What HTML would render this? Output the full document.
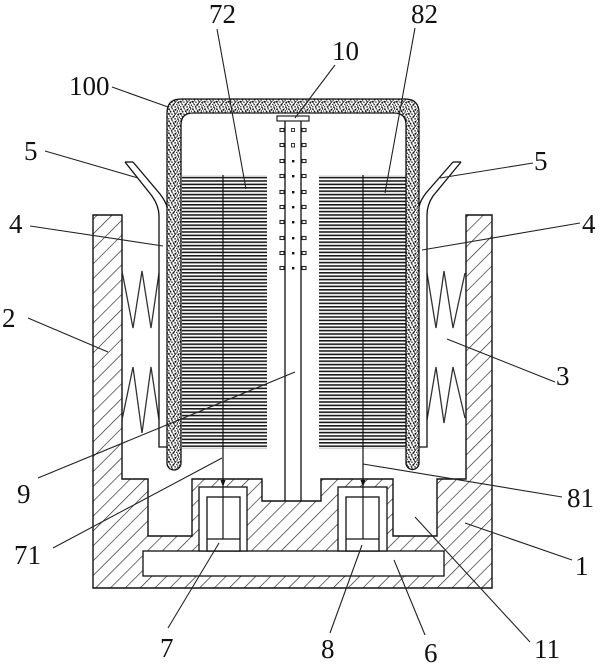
<!DOCTYPE html>
<html>
<head>
<meta charset="utf-8">
<style>
html,body{margin:0;padding:0;background:#fff;}
svg{display:block;}
text{font-family:"Liberation Serif",serif;font-size:27px;fill:#111;}
</style>
</head>
<body>
<svg width="600" height="666" viewBox="0 0 600 666" xmlns="http://www.w3.org/2000/svg">
<defs>
  <pattern id="hatch" width="10.5" height="10.5" patternUnits="userSpaceOnUse" patternTransform="rotate(45)">
    <rect width="10.5" height="10.5" fill="#fff"/>
    <line x1="0" y1="0" x2="0" y2="10.5" stroke="#222" stroke-width="1.3"/>
  </pattern>
  <pattern id="lam" width="10" height="3.4" patternUnits="userSpaceOnUse">
    <rect width="10" height="3.4" fill="#fff"/>
    <rect x="0" y="0" width="10" height="1.6" fill="#1a1a1a"/>
  </pattern>
  <pattern id="stip" width="12" height="12" patternUnits="userSpaceOnUse">
    <rect width="12" height="12" fill="#fff"/>
    <g fill="#111">
      <circle cx="1" cy="1.2" r="0.9"/><circle cx="4.2" cy="0.8" r="0.7"/><circle cx="7.5" cy="1.8" r="1"/>
      <circle cx="10.6" cy="0.9" r="0.8"/><circle cx="2.6" cy="3.6" r="0.8"/><circle cx="5.8" cy="3.3" r="0.9"/>
      <circle cx="9.2" cy="4" r="0.7"/><circle cx="11.5" cy="3.2" r="0.6"/><circle cx="0.8" cy="5.8" r="1"/>
      <circle cx="4" cy="6.2" r="0.7"/><circle cx="7.2" cy="6" r="0.9"/><circle cx="10.3" cy="6.6" r="1"/>
      <circle cx="2.2" cy="8.4" r="0.7"/><circle cx="5.5" cy="8.8" r="1"/><circle cx="8.8" cy="8.4" r="0.7"/>
      <circle cx="11.4" cy="9.2" r="0.7"/><circle cx="0.7" cy="10.8" r="0.7"/><circle cx="3.7" cy="11" r="0.9"/>
      <circle cx="7.1" cy="10.9" r="0.8"/><circle cx="10" cy="11.2" r="0.8"/><circle cx="6.5" cy="4.8" r="0.6"/>
      <circle cx="3" cy="9.9" r="0.5"/><circle cx="9.5" cy="2.6" r="0.5"/><circle cx="1.9" cy="2.4" r="0.5"/>
      <circle cx="5.1" cy="2" r="0.5"/><circle cx="8.3" cy="5.1" r="0.5"/><circle cx="11.2" cy="5.4" r="0.5"/>
      <circle cx="2.9" cy="5" r="0.5"/><circle cx="1.4" cy="7.3" r="0.5"/><circle cx="6.3" cy="7.5" r="0.6"/>
      <circle cx="9.4" cy="9.9" r="0.5"/><circle cx="4.6" cy="9.8" r="0.4"/><circle cx="8.4" cy="0.3" r="0.4"/>
    </g>
  </pattern>
</defs>

<!-- Housing body (1 & 2) hatched -->
<path d="M93,215 L122,215 L122,479 L148,479 L148,536 L192,536 L192,479 L262,479 L262,501 L321,501 L321,479 L393,479 L393,536 L437,536 L437,479 L466,479 L466,215 L492,215 L492,588 L93,588 Z"
      fill="url(#hatch)" stroke="#111" stroke-width="1.4"/>

<!-- plate 6 -->
<rect x="143" y="551" width="301" height="25" fill="#fff" stroke="#111" stroke-width="1.3"/>

<!-- slots 7 and 8 -->
<rect x="199" y="487" width="48" height="64" fill="#fff" stroke="#111" stroke-width="1.3"/>
<rect x="207" y="497" width="33" height="54" fill="#fff" stroke="#111" stroke-width="1.3"/>
<line x1="207" y1="539" x2="240" y2="539" stroke="#111" stroke-width="1.3"/>
<rect x="338" y="487" width="49" height="64" fill="#fff" stroke="#111" stroke-width="1.3"/>
<rect x="346" y="497" width="33" height="54" fill="#fff" stroke="#111" stroke-width="1.3"/>
<line x1="346" y1="539" x2="379" y2="539" stroke="#111" stroke-width="1.3"/>

<!-- springs 3 -->
<g fill="none" stroke="#333" stroke-width="1.3">
  <polyline points="122,271 133,328 142,271 151,328 159,273"/>
  <polyline points="122,420 133,367 142,433 151,367 159,420"/>
  <polyline points="427,273 436,328 444,271 453,328 465,273"/>
  <polyline points="427,420 436,367 444,423 453,367 465,418"/>
</g>

<!-- strips 5 and sleeves 4 -->
<g fill="none" stroke="#111" stroke-width="1.3">
  <path d="M125,162 L152,196 Q159,206 159,216 L159,447 L167,447"/>
  <path d="M133,162 L160,194 Q166,202 167,207"/>
  <line x1="125" y1="162" x2="133" y2="162"/>
  <path d="M461,162 L433,196 Q427,205 427,215 L427,447 L419,447"/>
  <path d="M453,162 L426,193 Q420,201 419,207"/>
  <line x1="453" y1="162" x2="461" y2="162"/>
</g>

<!-- lamination stacks -->
<rect x="182" y="175" width="85" height="274" fill="url(#lam)"/>
<rect x="319" y="175" width="87" height="274" fill="url(#lam)"/>

<!-- electrode lines 71 / 81 -->
<g stroke="#111" stroke-width="1.2">
  <line x1="223" y1="175" x2="223" y2="539"/>
  <line x1="363" y1="175" x2="363" y2="539"/>
</g>
<polygon points="220.5,480 225.5,480 223,487" fill="#111"/>
<polygon points="360.5,480 365.5,480 363,487" fill="#111"/>

<!-- cover 100 -->
<path d="M167,463 L167,113 Q167,99 181,99 L405,99 Q419,99 419,113 L419,463 A6.5,6.5 0 0 1 406,463 L406,125 Q406,113 394,113 L193,113 Q181,113 181,125 L181,463 A7,7 0 0 1 167,463 Z"
      fill="url(#stip)" stroke="#111" stroke-width="1.3"/>

<!-- rod 9 -->
<g stroke="#111" stroke-width="1.3">
  <line x1="285" y1="121" x2="285" y2="501"/>
  <line x1="301" y1="121" x2="301" y2="501"/>
</g>
<rect x="277" y="116" width="32" height="5" fill="#fff" stroke="#111" stroke-width="1.1"/>

<!-- spring 10 on rod -->
<g fill="#fff" stroke="#222" stroke-width="1.1">
  <rect x="280" y="128.5" width="4" height="3"/><rect x="302" y="128.5" width="4" height="3"/>
  <rect x="280" y="143.5" width="4" height="3"/><rect x="302" y="143.5" width="4" height="3"/>
  <rect x="280" y="159.5" width="4" height="3"/><rect x="302" y="159.5" width="4" height="3"/>
  <rect x="280" y="174.5" width="4" height="3"/><rect x="302" y="174.5" width="4" height="3"/>
  <rect x="280" y="190.5" width="4" height="3"/><rect x="302" y="190.5" width="4" height="3"/>
  <rect x="280" y="205.5" width="4" height="3"/><rect x="302" y="205.5" width="4" height="3"/>
  <rect x="280" y="220.5" width="4" height="3"/><rect x="302" y="220.5" width="4" height="3"/>
  <rect x="280" y="236.5" width="4" height="3"/><rect x="302" y="236.5" width="4" height="3"/>
  <rect x="280" y="251.5" width="4" height="3"/><rect x="302" y="251.5" width="4" height="3"/>
  <rect x="280" y="266.5" width="4" height="3"/><rect x="302" y="266.5" width="4" height="3"/>
</g>
<g fill="#111">
  <rect x="291.5" y="128.5" width="3" height="3" fill="none" stroke="#222" stroke-width="0.9"/>
  <rect x="291.5" y="143.5" width="3" height="3.5" fill="none" stroke="#222" stroke-width="0.9"/>
  <rect x="292" y="160" width="2.4" height="2.4"/>
  <rect x="292" y="175" width="2.4" height="2.4"/>
  <rect x="292" y="191" width="2.4" height="2.4"/>
  <rect x="292" y="206" width="2.4" height="2.4"/>
  <rect x="292" y="221" width="2.4" height="2.4"/>
  <rect x="292" y="237" width="2.4" height="2.4"/>
  <rect x="292" y="252" width="2.4" height="2.4"/>
  <rect x="292" y="267" width="2.4" height="2.4"/>
</g>

<!-- leader lines -->
<g stroke="#222" stroke-width="1.1" fill="none">
  <line x1="217" y1="29" x2="246" y2="189"/>
  <line x1="415" y1="28" x2="385" y2="193"/>
  <line x1="335" y1="65" x2="295" y2="118"/>
  <line x1="112" y1="87" x2="168" y2="107"/>
  <line x1="45" y1="151" x2="138" y2="178"/>
  <line x1="533" y1="163" x2="440" y2="178"/>
  <line x1="30" y1="226" x2="163" y2="246"/>
  <line x1="580" y1="223" x2="422" y2="250"/>
  <line x1="28" y1="318" x2="108" y2="352"/>
  <line x1="447" y1="339" x2="555" y2="382"/>
  <line x1="38" y1="478" x2="295" y2="372"/>
  <line x1="363" y1="464" x2="562" y2="497"/>
  <line x1="53" y1="548" x2="222" y2="458"/>
  <line x1="465" y1="523" x2="572" y2="560"/>
  <line x1="415" y1="517" x2="530" y2="642"/>
  <line x1="168" y1="628" x2="219" y2="543"/>
  <line x1="330" y1="633" x2="362" y2="545"/>
  <line x1="425" y1="635" x2="394" y2="560"/>
</g>

<!-- labels -->
<text x="209" y="23">72</text>
<text x="411" y="23">82</text>
<text x="332" y="60">10</text>
<text x="69" y="95">100</text>
<text x="24" y="160">5</text>
<text x="534" y="170">5</text>
<text x="9" y="233">4</text>
<text x="582" y="233">4</text>
<text x="2" y="327">2</text>
<text x="556" y="385">3</text>
<text x="17" y="503">9</text>
<text x="567" y="507">81</text>
<text x="14" y="564">71</text>
<text x="575" y="575">1</text>
<text x="160" y="657">7</text>
<text x="321" y="658">8</text>
<text x="424" y="662">6</text>
<text x="534" y="658">11</text>
</svg>
</body>
</html>
